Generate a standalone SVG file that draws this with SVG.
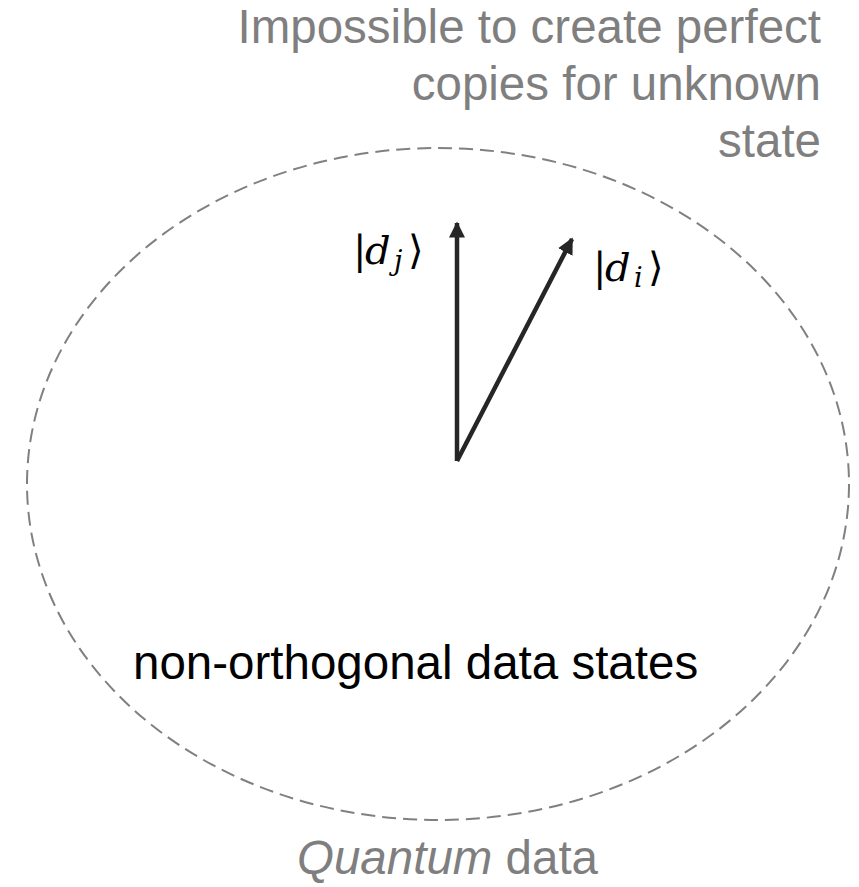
<svg xmlns="http://www.w3.org/2000/svg" width="859" height="887" viewBox="0 0 859 887">
<defs>
<marker id="ah" viewBox="0 0 10 10" refX="9" refY="5" markerWidth="3.6" markerHeight="3.6" orient="auto" markerUnits="strokeWidth">
<path d="M0,0 L10,5 L0,10 Z" fill="#262626"/>
</marker>
<style>
.gray{font-family:"Liberation Sans",Arial,sans-serif;font-size:47.5px;fill:#7f7f7f}
.blk{font-family:"Liberation Sans",Arial,sans-serif;font-size:47.5px;fill:#000}
.math{font-family:"DejaVu Serif","Liberation Serif",serif;font-size:40px;fill:#000}
.it{font-style:italic}
.sub{font-size:27px;font-style:italic}
.vec{stroke:#262626;stroke-width:4.5;fill:none;marker-end:url(#ah)}
</style>
</defs>
<rect width="859" height="887" fill="#fff"/>
<g id="boundary">
<ellipse cx="438" cy="484" rx="411" ry="336" fill="none" stroke="#808080" stroke-width="2" stroke-dasharray="14 7"/>
</g>
<g id="title">
<text class="gray" text-anchor="end"><tspan x="821" y="43">Impossible to create perfect</tspan><tspan x="821" y="100">copies for unknown</tspan><tspan x="821" y="157">state</tspan></text>
</g>
<g id="connectors">
<line class="vec" x1="457" y1="461" x2="457" y2="223"/>
<line class="vec" x1="457" y1="461" x2="572" y2="239"/>
</g>
<g id="ket-dj">
<text class="math"><tspan x="353" y="264">|</tspan><tspan class="it" x="365" y="264">d</tspan><tspan class="sub" x="394" y="270">j</tspan><tspan x="408" y="264">⟩</tspan></text>
</g>
<g id="ket-di">
<text class="math"><tspan x="593" y="281">|</tspan><tspan class="it" x="605" y="281">d</tspan><tspan class="sub" x="634" y="287">i</tspan><tspan x="648" y="281">⟩</tspan></text>
</g>
<g id="states-label">
<text class="blk" x="133" y="679">non-orthogonal data states</text>
</g>
<g id="caption">
<text class="gray" x="297" y="874"><tspan font-style="italic">Quantum</tspan> data</text>
</g>
</svg>
